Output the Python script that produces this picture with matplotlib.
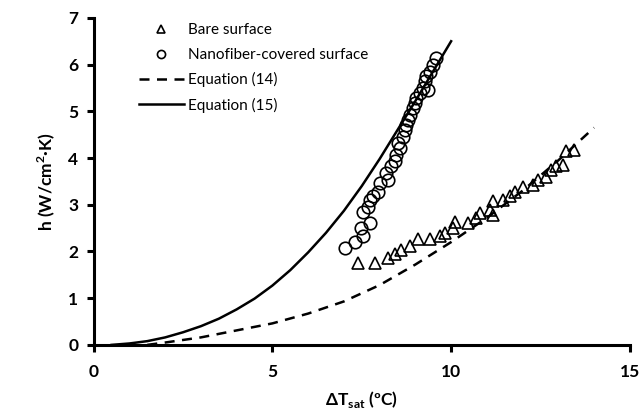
import matplotlib
matplotlib.use("Agg")
import matplotlib.pyplot as plt

plt.rcParams['font.family'] = ['Lato', 'DejaVu Sans']
plt.rcParams['mathtext.fontset'] = 'custom'
plt.rcParams['mathtext.rm'] = 'Lato:bold'
plt.rcParams['mathtext.bf'] = 'Lato:bold'

# Bare surface (triangles)
bare_x = [7.39, 7.86, 8.23, 8.42, 8.61, 8.84, 9.07, 9.40, 9.68, 9.82,
          10.05, 10.10, 10.47, 10.70, 10.80, 11.08, 11.17, 11.17, 11.45, 11.64,
          11.78, 12.01, 12.29, 12.43, 12.66, 12.80, 12.94, 13.13, 13.22, 13.45]
bare_h = [1.75, 1.76, 1.86, 1.95, 2.03, 2.12, 2.26, 2.26, 2.33, 2.39,
          2.50, 2.64, 2.61, 2.71, 2.82, 2.89, 2.78, 3.07, 3.10, 3.18,
          3.28, 3.39, 3.43, 3.53, 3.60, 3.75, 3.82, 3.85, 4.14, 4.18]

# Nanofiber-covered surface (circles)
nano_x = [7.02, 7.30, 7.53, 7.49, 7.72, 7.53, 7.67, 7.72, 7.81, 7.95,
          8.00, 8.23, 8.19, 8.33, 8.42, 8.47, 8.56, 8.51, 8.65, 8.70,
          8.75, 8.79, 8.84, 8.93, 8.98, 9.03, 9.12, 9.21, 9.35, 9.26,
          9.31, 9.40, 9.49, 9.59]
nano_h = [2.07, 2.21, 2.32, 2.50, 2.61, 2.85, 2.96, 3.10, 3.18, 3.28,
          3.46, 3.53, 3.68, 3.82, 3.93, 4.07, 4.21, 4.32, 4.46, 4.60,
          4.71, 4.82, 4.93, 5.07, 5.18, 5.28, 5.39, 5.50, 5.46, 5.64,
          5.75, 5.85, 6.00, 6.14]

# Equation (14) - dashed
eq14_x = [1.5, 2, 3, 4, 5, 6, 7, 8, 9, 10, 11, 12, 13, 14]
eq14_h = [0.0, 0.05, 0.16, 0.31, 0.46, 0.67, 0.93, 1.28, 1.72, 2.20, 2.72, 3.30, 3.95, 4.65]

# Equation (15) - solid
eq15_x = [0.5, 1, 1.5, 2, 2.5, 3, 3.5, 4, 4.5, 5, 5.5, 6, 6.5, 7, 7.5, 8, 8.5, 9, 9.5, 10]
eq15_h = [0.0, 0.03, 0.08, 0.16, 0.27, 0.40, 0.56, 0.76, 0.99, 1.27, 1.60, 1.98, 2.40, 2.87, 3.40, 3.98, 4.60, 5.22, 5.86, 6.50]

fig = plt.figure(figsize=(6.42, 4.16), dpi=100)
ax = fig.add_axes([0.146, 0.171, 0.835, 0.786])

ax.plot(bare_x, bare_h, linestyle='none', marker='^', markersize=9,
        markerfacecolor='none', markeredgecolor='black', markeredgewidth=1.2,
        label='Bare surface')
ax.plot(nano_x, nano_h, linestyle='none', marker='o', markersize=9,
        markerfacecolor='none', markeredgecolor='black', markeredgewidth=1.2,
        label='Nanofiber-covered surface')
ax.plot(eq14_x, eq14_h, color='black', linestyle=(0, (4, 3)), linewidth=1.8,
        label='Equation (14)')
ax.plot(eq15_x, eq15_h, color='black', linestyle='-', linewidth=1.8,
        label='Equation (15)')

ax.set_xlim(0, 15)
ax.set_ylim(0, 7)
ax.set_xticks([0, 5, 10, 15])
ax.set_yticks(range(0, 8))

for s in ['top', 'right']:
    ax.spines[s].set_visible(False)
for s in ['left', 'bottom']:
    ax.spines[s].set_linewidth(2.2)
ax.tick_params(direction='out', length=5, width=2.2, labelsize=12.5, pad=6)
ax.tick_params(axis='x', pad=9)
for lbl in ax.get_xticklabels() + ax.get_yticklabels():
    lbl.set_fontweight('bold')

ax.set_xlabel(r'ΔT$_{\mathbf{sat}}$ (ºC)', fontsize=12.5, fontweight='bold', labelpad=6)
ax.set_ylabel('h (W/cm$^{\\mathbf{2}}$·K)', fontsize=12.5, fontweight='bold', labelpad=8)

ax.legend(loc='upper left', bbox_to_anchor=(0.058, 1.025), frameon=False,
          fontsize=11, markerscale=0.65, handlelength=3.0, labelspacing=0.68,
          handletextpad=0.25)

fig.savefig('out.png', dpi=100)
